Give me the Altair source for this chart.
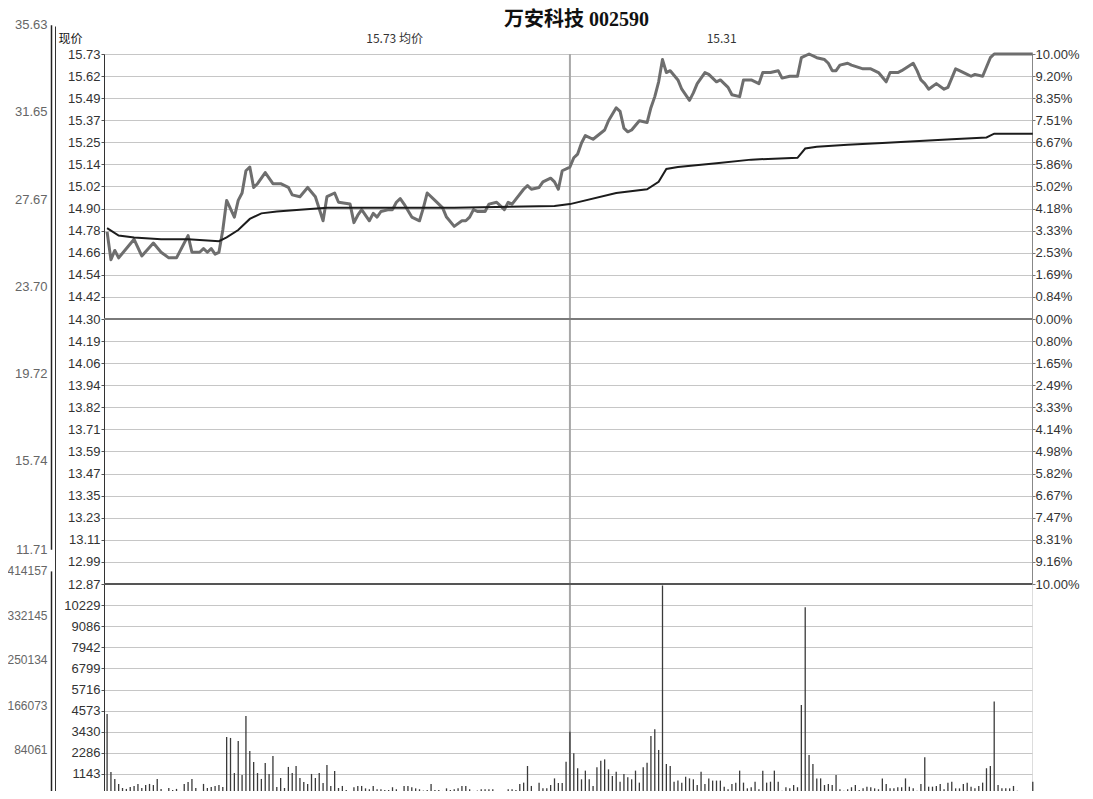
import json
import numpy as np
import pandas as pd
import altair as alt

# ---------------- data ----------------
TITLE = "万安科技 002590"
PRICE_TITLE = "现价"
PREV_CLOSE = 14.30
LIMIT_UP = 15.73
LIMIT_DOWN = 12.87

price_labels = ["12.87", "12.99", "13.11", "13.23", "13.35", "13.47", "13.59", "13.71",
                "13.82", "13.94", "14.06", "14.19", "14.30", "14.42", "14.54", "14.66",
                "14.78", "14.90", "15.02", "15.14", "15.25", "15.37", "15.49", "15.62", "15.73"]
pct_labels = ["10.00%", "9.16%", "8.31%", "7.47%", "6.67%", "5.82%", "4.98%", "4.14%",
              "3.33%", "2.49%", "1.65%", "0.80%", "0.00%", "0.84%", "1.69%", "2.53%",
              "3.33%", "4.18%", "5.02%", "5.86%", "6.67%", "7.51%", "8.35%", "9.20%", "10.00%"]
vol_labels = ["1143", "2286", "3430", "4573", "5716", "6799", "7942", "9086", "10229"]
VOL_STEP = 1143
outer_price_ticks = [35.63, 31.65, 27.67, 23.70, 19.72, 15.74, 11.71]
outer_vol_ticks = [414157, 332145, 250134, 166073, 84061]
header_labels = ["15.73 均价", "15.31"]
header_pos = [74.4, 159.2]
LUNCH_INDEX = [120]

price_t = [0, 1, 2, 3, 7, 9, 12, 14, 16, 18, 21, 22, 24, 25, 26, 27, 28, 29, 30, 31,
           33, 34, 35, 36, 37, 38, 39, 41, 43, 45, 47, 48, 50, 52, 54, 56, 57, 59, 60, 63,
           64, 65, 66, 68, 69, 70, 71, 73, 74, 75, 76, 77, 79, 81, 82, 83, 85, 87, 88, 90,
           92, 93, 94, 95, 96, 98, 99, 101, 103, 104, 105, 108, 109, 110, 112, 113, 115, 116, 117, 118,
           120, 121, 122, 123, 124, 126, 129, 130, 132, 133, 134, 135, 136, 138, 140, 141, 142, 143, 144, 145,
           146, 148, 149, 151, 152, 153, 155, 156, 158, 159, 161, 162, 164, 165, 167, 169, 170, 172, 174, 175,
           177, 179, 180, 182, 184, 186, 187, 188, 189, 190, 192, 193, 196, 198, 200, 202, 203, 205, 206, 209,
           210, 211, 212, 213, 215, 217, 218, 220, 221, 223, 224, 225, 227, 228, 229, 230, 240]
price_p = [14.77, 14.62, 14.67, 14.63, 14.73, 14.64, 14.71, 14.66, 14.63, 14.63, 14.75, 14.66, 14.66, 14.68, 14.66, 14.68, 14.65, 14.66, 14.78, 14.94,
           14.85, 14.94, 14.98, 15.10, 15.12, 15.01, 15.03, 15.09, 15.03, 15.03, 15.01, 14.97, 14.96, 15.01, 14.96, 14.83, 14.96, 14.98, 14.93, 14.92,
           14.82, 14.86, 14.89, 14.83, 14.87, 14.85, 14.88, 14.89, 14.89, 14.93, 14.95, 14.92, 14.85, 14.83, 14.90, 14.98, 14.94, 14.90, 14.85, 14.80,
           14.83, 14.83, 14.85, 14.89, 14.88, 14.88, 14.92, 14.93, 14.89, 14.93, 14.92, 15.00, 15.02, 15.00, 15.01, 15.04, 15.06, 15.04, 15.00, 15.10,
           15.12, 15.17, 15.19, 15.25, 15.29, 15.27, 15.32, 15.37, 15.44, 15.42, 15.33, 15.31, 15.32, 15.37, 15.36, 15.44, 15.50, 15.58, 15.70, 15.63,
           15.64, 15.59, 15.54, 15.48, 15.52, 15.57, 15.63, 15.62, 15.58, 15.59, 15.55, 15.51, 15.50, 15.59, 15.59, 15.57, 15.63, 15.63, 15.64, 15.60,
           15.61, 15.61, 15.71, 15.73, 15.71, 15.70, 15.68, 15.64, 15.64, 15.67, 15.68, 15.67, 15.65, 15.65, 15.63, 15.58, 15.63, 15.63, 15.64, 15.68,
           15.64, 15.59, 15.57, 15.54, 15.57, 15.54, 15.55, 15.65, 15.64, 15.62, 15.61, 15.62, 15.61, 15.66, 15.71, 15.73, 15.73]

avg_t = [0, 3, 7, 14, 21, 29, 31, 34, 37, 40, 44, 50, 57, 63, 90, 116, 120, 132, 140, 143,
         145, 148, 158, 167, 179, 181, 184, 192, 201, 219, 228, 230, 240]
avg_p = [14.79, 14.75, 14.74, 14.73, 14.73, 14.72, 14.74, 14.78, 14.84, 14.87, 14.88, 14.89, 14.90, 14.90, 14.90, 14.91, 14.92, 14.98, 15.00, 15.04,
         15.11, 15.12, 15.14, 15.16, 15.17, 15.22, 15.23, 15.24, 15.25, 15.27, 15.28, 15.30, 15.30]

volume = [
    4390, 1250, 870, 600, 380, 330, 430, 490, 600, 380,
    540, 600, 540, 870, 330, 220, 380, 270, 330, 220,
    600, 700, 870, 380, 220, 600, 380, 430, 490, 540,
    430, 3140, 3090, 1190, 2930, 1080, 4280, 2390, 1790, 1190,
    870, 1730, 1140, 2110, 430, 920, 380, 1520, 1190, 1570,
    920, 700, 600, 1140, 920, 1190, 650, 1630, 490, 1300,
    380, 490, 270, 220, 420, 490, 490, 360, 310, 490,
    310, 310, 270, 270, 420, 310, 180, 490, 490, 420,
    360, 310, 240, 270, 600, 270, 270, 220, 360, 270,
    310, 360, 490, 490, 310, 220, 240, 310, 310, 310,
    310, 180, 130, 130, 310, 310, 270, 600, 670, 1570,
    490, 180, 670, 360, 360, 540, 900, 650, 650, 1800,
    3430, 2260, 1450, 850, 1320, 850, 490, 1500, 1860, 1930,
    1390, 1030, 1260, 720, 1140, 960, 850, 1320, 670, 1500,
    1750, 3200, 3560, 2440, 11350, 1680, 1570, 720, 780, 670,
    990, 900, 850, 540, 1260, 600, 900, 780, 780, 780,
    450, 310, 600, 670, 1320, 670, 360, 420, 720, 310,
    1320, 670, 720, 1320, 720, 230, 420, 360, 540, 420,
    4880, 10170, 2170, 1680, 900, 900, 540, 600, 540, 1080,
    310, 230, 310, 420, 540, 270, 360, 450, 420, 360,
    310, 900, 600, 360, 360, 420, 420, 900, 450, 360,
    230, 600, 2040, 450, 450, 490, 600, 310, 670, 720,
    360, 360, 600, 670, 450, 360, 490, 670, 1450, 1570,
    5060, 540, 360, 360, 360, 490, 230, 90, 0, 0,
    720,
]

# ---------------- layout ----------------
W, H, PRICE_H, PANE_BOTTOM = 928, 737, 530, 741

n = len(price_labels) - 1
step = (LIMIT_UP - LIMIT_DOWN) / n
price_ticks = [round(LIMIT_DOWN + k * step, 6) for k in range(n + 1)]
price_expr = f"{json.dumps(price_labels)}[round((datum.value - {LIMIT_DOWN}) / {step})]"
pct_expr = f"{json.dumps(pct_labels)}[round((datum.value - {LIMIT_DOWN}) / {step})]"
vol_ticks = [VOL_STEP * (k + 1) for k in range(len(vol_labels))]
vol_expr = f"{json.dumps(vol_labels)}[round(datum.value / {VOL_STEP}) - 1]"
header_expr = (f"datum.value < {LUNCH_INDEX[0]} ? {json.dumps(header_labels[0], ensure_ascii=False)}"
               f" : {json.dumps(header_labels[1], ensure_ascii=False)}")

LABEL_FONT = "Liberation Sans"

top_axis = alt.Axis(orient="top", values=header_pos, labelExpr=header_expr, domain=False,
                    ticks=False, tickSize=0, grid=False, labelPadding=9, labelFontSize=12,
                    labelColor="#333", labelFont="Noto Sans CJK SC", labelFlush=False,
                    labelOverlap=False, title=TITLE, titleFont="Liberation Serif, Noto Sans CJK SC",
                    titleFontSize=20, titleFontWeight="bold", titleColor="#111",
                    titleX=472, titleY=-25, titleAlign="center", titleBaseline="bottom",
                    titleAngle=0)
x_enc = alt.X("t:Q", scale=alt.Scale(domain=[-0.8, 239.8], nice=False, zero=False), axis=top_axis)

price_scale = alt.Scale(domain=[LIMIT_DOWN, LIMIT_UP], range=[PRICE_H, 0], nice=False, zero=False)
price_axis = alt.Axis(orient="left", values=price_ticks, labelExpr=price_expr, grid=True,
                      gridColor="#c6c6c6", gridWidth=1, domain=True, domainColor="#333",
                      ticks=True, tickSize=3, tickColor="#555", labelPadding=1,
                      labelFontSize=13, labelColor="#333", labelFont=LABEL_FONT,
                      labelOverlap=False, labelFlush=False,
                      title=PRICE_TITLE, titleAngle=0, titleAlign="left", titleBaseline="bottom",
                      titleX=-46, titleY=-9, titleFont="Noto Sans CJK SC", titleFontSize=12,
                      titleFontWeight="normal", titleColor="#111")
pct_axis = alt.Axis(orient="right", values=price_ticks, labelExpr=pct_expr, grid=False,
                    domain=True, domainColor="#888", ticks=True, tickSize=3, tickColor="#777",
                    labelPadding=0, labelFontSize=13, labelColor="#333", labelFont=LABEL_FONT,
                    labelOverlap=False, labelFlush=False, title=None)

vol_scale = alt.Scale(domain=[0, VOL_STEP * 10], range=[PANE_BOTTOM, PRICE_H], nice=False, zero=False)
vol_axis = alt.Axis(orient="left", values=vol_ticks, labelExpr=vol_expr, grid=True,
                    gridColor="#c6c6c6", gridWidth=1, domain=True, domainColor="#333",
                    ticks=True, tickSize=3, tickColor="#555", labelPadding=1,
                    labelFontSize=13, labelColor="#333", labelFont=LABEL_FONT,
                    labelOverlap=False, labelFlush=False, title=None)

outer_price_scale = alt.Scale(domain=[11.71, 35.63], range=[495.3, -29.3], nice=False, zero=False)
outer_price_axis = alt.Axis(orient="left", offset=53, values=outer_price_ticks, format=".2f",
                            grid=False, ticks=False, tickSize=0, domain=True, domainColor="#222",
                            domainWidth=1.5, labelPadding=4, labelFontSize=13, labelColor="#666",
                            labelFont=LABEL_FONT, labelOverlap=False, labelFlush=False, title=None)
outer_vol_scale = alt.Scale(domain=[0, 414157], range=[741.6, 516.9], nice=False, zero=False)
outer_vol_axis = alt.Axis(orient="left", offset=53, values=outer_vol_ticks, format="d",
                          grid=False, ticks=False, tickSize=0, domain=True, domainColor="#222",
                          domainWidth=1.5, labelPadding=4, labelFontSize=12, labelColor="#666",
                          labelFont=LABEL_FONT, labelOverlap=False, labelFlush=False, title=None)
# full-height second rule of the outer frame (domain only)
frame_scale = alt.Scale(domain=[0, 1], range=[PANE_BOTTOM, -28], nice=False, zero=False)
frame_axis = alt.Axis(orient="left", offset=49, values=[], labels=False, ticks=False, grid=False,
                      domain=True, domainColor="#333", domainWidth=1, title=None)

# ---------------- data frames ----------------
price_df = pd.DataFrame({"t": price_t, "p": price_p})
avg_df = pd.DataFrame({"t": avg_t, "p": avg_p})
vol_df = pd.DataFrame({"t": np.arange(len(volume)), "v": volume})

lunch = alt.Chart(pd.DataFrame({"t": LUNCH_INDEX})).mark_rule(
    color="#a8a8a8", strokeWidth=2).encode(x=x_enc)
price_line = alt.Chart(price_df).mark_line(color="#6e6e6e", strokeWidth=3, strokeJoin="round").encode(
    x=x_enc, y=alt.Y("p:Q", scale=price_scale, axis=price_axis))
avg_line = alt.Chart(avg_df).mark_line(color="#1c1c1c", strokeWidth=2).encode(
    x=x_enc, y=alt.Y("p:Q", scale=price_scale, axis=price_axis))
divider = alt.Chart(pd.DataFrame({"p": [LIMIT_DOWN]})).mark_rule(color="#555", strokeWidth=2).encode(
    y=alt.Y("p:Q", scale=price_scale, axis=price_axis))
price_group = alt.layer(lunch, price_line, avg_line, divider)

prev_close = alt.Chart(pd.DataFrame({"p": [PREV_CLOSE]})).mark_rule(color="#7a7a7a", strokeWidth=2).encode(
    y=alt.Y("p:Q", scale=price_scale, axis=pct_axis))

vol_bars = alt.Chart(vol_df).mark_rule(color="#3a3a3a", strokeWidth=1.3).encode(
    x=x_enc, y=alt.Y("v:Q", scale=vol_scale, axis=vol_axis), y2=alt.datum(0))

outer_p = alt.Chart(pd.DataFrame({"v": outer_price_ticks})).mark_point(opacity=0).encode(
    y=alt.Y("v:Q", scale=outer_price_scale, axis=outer_price_axis))
outer_v = alt.Chart(pd.DataFrame({"v": outer_vol_ticks})).mark_point(opacity=0).encode(
    y=alt.Y("v:Q", scale=outer_vol_scale, axis=outer_vol_axis))
frame = alt.Chart(pd.DataFrame({"v": [0.5]})).mark_point(opacity=0).encode(
    y=alt.Y("v:Q", scale=frame_scale, axis=frame_axis))

chart = alt.layer(price_group, prev_close, vol_bars, outer_p, outer_v, frame).resolve_scale(
    y="independent"
).properties(
    width=W, height=H,
    autosize=alt.AutoSizeParams(type="none"),
    padding={"left": 96, "top": 46, "right": 53, "bottom": 0},
).configure_view(stroke="#444", strokeWidth=1).configure(background="white")

chart.save("out.html", embed_options={"renderer": "svg", "actions": False})
